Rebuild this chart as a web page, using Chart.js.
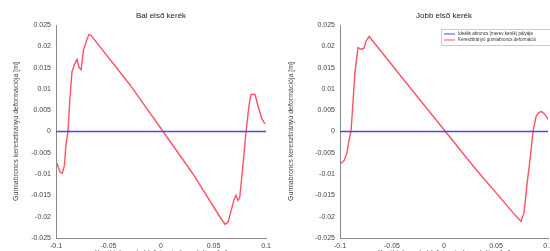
<!DOCTYPE html>
<html>
<head>
<meta charset="utf-8">
<script src="https://cdn.jsdelivr.net/npm/chart.js@4.4.1/dist/chart.umd.min.js"></script>
<style>
  html, body { margin: 0; padding: 0; background: #fff; width: 550px; height: 251px; overflow: hidden; }
  .box { position: absolute; top: 0; }
</style>
</head>
<body>
<div class="box" style="left:0;width:275px;height:262px"><canvas id="balChart"></canvas></div>
<div class="box" style="left:275px;width:290px;height:262px"><canvas id="jobbChart"></canvas></div>
<script>
// left wheel (Bal első kerék)
const balX = [-0.099, -0.0962, -0.094, -0.092, -0.0905, -0.0886, -0.0867, -0.0848, -0.082, -0.080, -0.078, -0.076, -0.074, -0.0714, -0.0686, -0.0667,
  -0.03, 0.0, 0.03, 0.055, 0.061, 0.064, 0.0676, 0.0695, 0.0714, 0.0733, 0.075, 0.078, 0.081, 0.084, 0.0857, 0.0895, 0.0924, 0.096, 0.099];
const balY = [-0.0075, -0.0095, -0.0098, -0.008, -0.003, 0.0, 0.008, 0.014, 0.016, 0.0169, 0.015, 0.0145, 0.019, 0.021, 0.0228, 0.0226,
  0.0111, 0.0007, -0.0098, -0.0196, -0.0218, -0.0212, -0.0178, -0.016, -0.015, -0.0162, -0.0155, -0.008, 0.0, 0.0065, 0.0087, 0.0087, 0.006, 0.003, 0.0018];

// right wheel (Jobb első kerék)
const jobbX = [-0.099, -0.096, -0.0933, -0.0913, -0.0894, -0.0875, -0.0856, -0.0827, -0.0798, -0.077, -0.075, -0.072,
  -0.03, 0.0, 0.03, 0.069, 0.074, 0.077, 0.080, 0.083, 0.0856, 0.0885, 0.0913, 0.094, 0.0971, 0.101];
const jobbY = [-0.0075, -0.0068, -0.005, -0.002, 0.0, 0.007, 0.014, 0.0197, 0.0193, 0.0195, 0.0212, 0.0223,
  0.0095, 0.0004, -0.0087, -0.0198, -0.0211, -0.019, -0.012, -0.006, 0.0, 0.0035, 0.0045, 0.0047, 0.004, 0.0025];

const refX = [-0.1, 0.1];
const refY = [0, 0];

const seriesNames = ['Ideális abroncs (merev kerék) pályája', 'Keresztirányú gumiabroncs deformáció'];
const titles = ['Bal első kerék', 'Jobb első kerék'];
const yTitle = 'Gumiabroncs keresztirányú deformációja [m]';
const xTitle = 'Keréktalppont oldalirányú elmozdulása [m]';

const FONT = '"Liberation Sans", Arial, sans-serif';
const BLUE = 'rgb(70,70,255)';
const RED = 'rgb(255,80,100)';

const toPts = (xs, ys) => xs.map((x, i) => ({ x: x, y: ys[i] }));

const overlay = {
  id: 'overlay',
  afterDraw(chart, args, opts) {
    const ctx = chart.ctx;
    const a = chart.chartArea;
    ctx.save();
    ctx.fillStyle = '#222';
    ctx.font = '8px ' + FONT;
    ctx.textAlign = 'center';
    ctx.textBaseline = 'alphabetic';
    ctx.fillText(opts.title, (a.left + a.right) / 2, 18);
    if (opts.legend) {
      const lx = 166, ly = 29, lw = 120, lh = 16;
      ctx.fillStyle = '#fff';
      ctx.fillRect(lx, ly, lw, lh);
      ctx.strokeStyle = '#ccc';
      ctx.lineWidth = 1;
      ctx.strokeRect(lx + 0.5, ly + 0.5, lw, lh);
      chart.data.datasets.forEach((ds, i) => {
        const yy = ly + 5 + i * 6;
        ctx.strokeStyle = ds.borderColor;
        ctx.beginPath();
        ctx.moveTo(lx + 3, yy);
        ctx.lineTo(lx + 14, yy);
        ctx.stroke();
        ctx.fillStyle = '#333';
        ctx.font = '4.5px ' + FONT;
        ctx.textAlign = 'left';
        ctx.textBaseline = 'middle';
        ctx.fillText(ds.label, lx + 17, yy);
      });
    }
    ctx.restore();
  }
};

function makeChart(id, xs, ys, title, axisWidth, padRight, legend) {
  return new Chart(document.getElementById(id), {
    type: 'scatter',
    data: {
      datasets: [
        { label: seriesNames[0], data: toPts(refX, refY), borderColor: BLUE, backgroundColor: BLUE, borderWidth: 1.5 },
        { label: seriesNames[1], data: toPts(xs, ys), borderColor: RED, backgroundColor: RED, borderWidth: 1.4 }
      ]
    },
    options: {
      responsive: true,
      maintainAspectRatio: false,
      animation: false,
      showLine: true,
      elements: { point: { radius: 0 }, line: { tension: 0 } },
      layout: { padding: { top: 25, left: 0, right: padRight, bottom: 0 } },
      plugins: {
        legend: { display: false },
        tooltip: { enabled: false },
        overlay: { title: title, legend: legend }
      },
      scales: {
        x: {
          type: 'linear', min: -0.1, max: 0.1,
          afterFit: s => { s.height = 24; },
          grid: { display: false, drawOnChartArea: false, tickLength: 3 },
          border: { color: '#888' },
          ticks: { stepSize: 0.05, color: '#444', font: { family: FONT, size: 7 }, padding: 1,
            callback: v => String(Number(v.toFixed(3))) },
          title: { display: true, text: xTitle, color: '#444', font: { family: FONT, size: 7 }, padding: { top: 0, bottom: 5 } }
        },
        y: {
          type: 'linear', min: -0.025, max: 0.025,
          afterFit: s => { s.width = axisWidth; },
          grid: { display: false, drawOnChartArea: false, tickLength: 3 },
          border: { color: '#888' },
          ticks: { stepSize: 0.005, color: '#444', font: { family: FONT, size: 7 }, padding: 2,
            callback: v => String(Number(v.toFixed(3))) },
          title: { display: true, text: yTitle, color: '#444', font: { family: FONT, size: 7 }, padding: { top: 12, bottom: 0 } }
        }
      }
    },
    plugins: [overlay]
  });
}

makeChart('balChart', balX, balY, titles[0], 56, 9, false);
makeChart('jobbChart', jobbX, jobbY, titles[1], 65, 17, true);
</script>
</body>
</html>
